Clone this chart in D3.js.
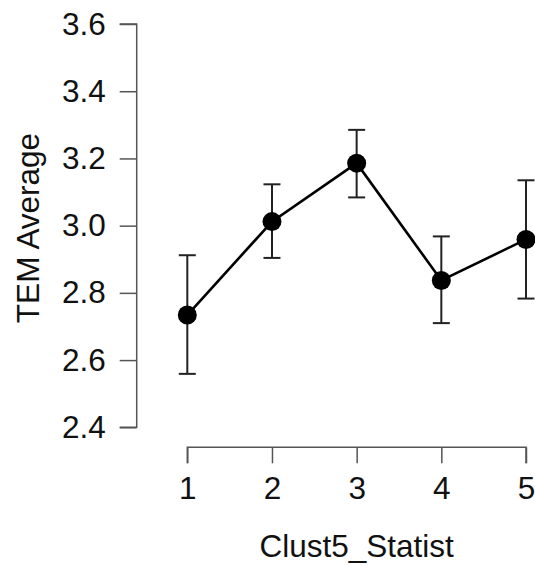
<!DOCTYPE html>
<html>
<head>
<meta charset="utf-8">
<script src="https://cdn.jsdelivr.net/npm/d3@7"></script>
<style>
  html, body { margin: 0; padding: 0; background: #fff; }
  svg { display: block; font-family: Arial, "Liberation Sans", sans-serif; }
</style>
</head>
<body>
<svg id="chart" width="535" height="565"></svg>
<script>
// Cluster groups and mean TEM score with interval bounds
const categories = [1, 2, 3, 4, 5];
const means = [2.734, 3.012, 3.186, 2.837, 2.959];
const lower = [2.559, 2.904, 3.084, 2.710, 2.783];
const upper = [2.912, 3.123, 3.285, 2.968, 3.135];
const yTicks = [2.4, 2.6, 2.8, 3.0, 3.2, 3.4, 3.6];

const svg = d3.select("#chart");
const fontSize = "31.5px";

const x = d3.scaleLinear().domain([1, 5]).range([187.3, 526]);
const y = d3.scaleLinear().domain([2.4, 3.6]).range([427.3, 24]);

const axisColor = "#555";

// Y axis (offset to the left of the plotting region)
const yAxis = svg.append("g")
  .attr("transform", "translate(136.7,0)")
  .call(d3.axisLeft(y).tickValues(yTicks).tickFormat(d3.format(".1f")).tickSize(17).tickPadding(14));
yAxis.select(".domain").attr("stroke", axisColor).attr("stroke-width", 1.5)
  .attr("d", `M-17,${y(3.6)}H0V${y(2.4)}H-17`);
yAxis.selectAll(".tick line").attr("stroke", axisColor).attr("stroke-width", 1.5);
yAxis.selectAll(".tick text").attr("fill", "#111").style("font-size", fontSize);

// X axis (offset below the plotting region)
const xAxis = svg.append("g")
  .attr("transform", "translate(0,447.3)")
  .call(d3.axisBottom(x).tickValues(categories).tickFormat(d3.format("d")).tickSize(16).tickSizeOuter(0).tickPadding(13));
xAxis.select(".domain").attr("stroke", axisColor).attr("stroke-width", 1.5)
  .attr("d", `M${x(1)},16V0H${x(5)}V16`);
xAxis.selectAll(".tick line").attr("stroke", axisColor).attr("stroke-width", 1.5);
xAxis.selectAll(".tick text").attr("fill", "#111").style("font-size", fontSize);

// Axis titles
svg.append("text")
  .attr("x", x(3)).attr("y", 557)
  .attr("text-anchor", "middle")
  .attr("fill", "#111")
  .style("font-size", fontSize)
  .text("Clust5_Statist");

svg.append("text")
  .attr("transform", `translate(39,228) rotate(-90)`)
  .attr("text-anchor", "middle")
  .attr("fill", "#111")
  .style("font-size", fontSize)
  .text("TEM Average");

const data = categories.map((c, i) => ({ c, m: means[i], lo: lower[i], hi: upper[i] }));

// Error bars
const eb = svg.append("g").attr("stroke", "#222").attr("stroke-width", 2);
const cap = 8.5;
data.forEach(d => {
  eb.append("line").attr("x1", x(d.c)).attr("x2", x(d.c)).attr("y1", y(d.lo)).attr("y2", y(d.hi));
  eb.append("line").attr("x1", x(d.c) - cap).attr("x2", x(d.c) + cap).attr("y1", y(d.lo)).attr("y2", y(d.lo));
  eb.append("line").attr("x1", x(d.c) - cap).attr("x2", x(d.c) + cap).attr("y1", y(d.hi)).attr("y2", y(d.hi));
});

// Connecting line
svg.append("path")
  .datum(data)
  .attr("fill", "none")
  .attr("stroke", "#000")
  .attr("stroke-width", 2.6)
  .attr("d", d3.line().x(d => x(d.c)).y(d => y(d.m)));

// Mean markers
svg.append("g").selectAll("circle")
  .data(data)
  .join("circle")
  .attr("cx", d => x(d.c))
  .attr("cy", d => y(d.m))
  .attr("r", 9.5)
  .attr("fill", "#000");
</script>
</body>
</html>
